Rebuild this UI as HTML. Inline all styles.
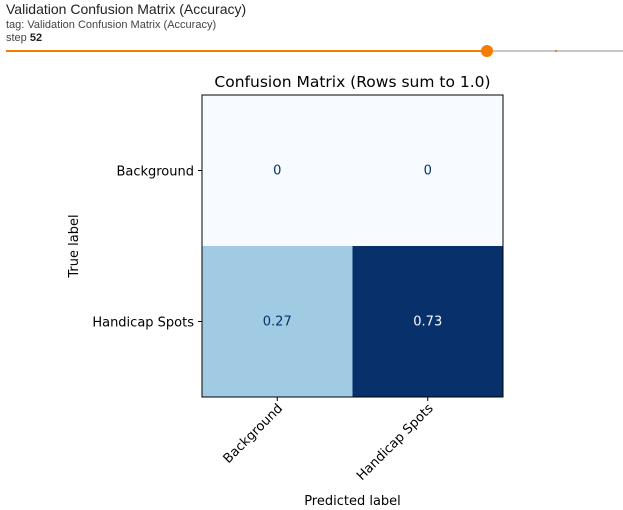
<!DOCTYPE html>
<html><head><meta charset="utf-8"><style>
body{margin:0;width:623px;height:510px;background:#fff;overflow:hidden;font-family:"Liberation Sans",sans-serif}
.h{position:absolute;left:6px;color:#333}
</style></head><body>
<div class="h" style="top:1px;font-size:14px;color:#222">Validation Confusion Matrix (Accuracy)</div>
<div class="h" style="top:19px;font-size:11px;color:#444">tag: Validation Confusion Matrix (Accuracy)</div>
<div class="h" style="top:32px;font-size:11px;color:#444">step <b style="color:#222">52</b></div>
<svg width="623" height="510" style="position:absolute;left:0;top:0">
<g>
<line x1="487" y1="51" x2="623" y2="51" stroke="#c8c8c8" stroke-width="2"/>
<line x1="6" y1="51" x2="487" y2="51" stroke="#f57c00" stroke-width="2"/>
<rect x="555" y="50" width="2" height="2" fill="#f57c00"/>
<circle cx="487" cy="51" r="6" fill="#f57c00"/>
</g>
<g id="chart" font-family="DejaVu Sans, sans-serif" font-size="13"></g>
</svg>
<script>
const categories=["Background","Handicap Spots"];
const row0=[0,0];
const row1=[0.27,0.73];
const values=[row0,row1];
const NS="http://www.w3.org/2000/svg";
const g=document.getElementById('chart');
const L=202,T=95,W=301,H=302,n=categories.length,cw=W/n,ch=H/n;
const xPos=i=>L+cw*(i+0.5), yPos=i=>T+ch*(i+0.5);
const vmax=Math.max(...values.flat()),vmin=Math.min(...values.flat());
const stops=[[247,251,255],[222,235,247],[198,219,239],[158,202,225],[107,174,214],[66,146,198],[33,113,181],[8,81,156],[8,48,107]];
function blues(t){t=Math.max(0,Math.min(1,t));const p=t*(stops.length-1),i=Math.min(Math.floor(p),stops.length-2),f=p-i;
return 'rgb('+stops[i].map((c,k)=>Math.round(c+(stops[i+1][k]-c)*f)).join(',')+')';}
function el(tag,attrs,txt){const e=document.createElementNS(NS,tag);for(const k in attrs)e.setAttribute(k,attrs[k]);if(txt!=null)e.textContent=txt;g.appendChild(e);return e;}
values.forEach((row,r)=>row.forEach((v,c)=>{
 const t=(v-vmin)/((vmax-vmin)||1);
 const rc=el('rect',{x:L+c*cw,y:T+r*ch,width:cw,height:ch,fill:blues(t)});
 
 
 const tx=el('text',{x:xPos(c),y:yPos(r)+4,'text-anchor':'middle',fill:t>0.5?'#f7fbff':'#08306b'},String(v));
 
 
}));
const fr=el('rect',{x:L,y:T,width:W,height:H,fill:'none',stroke:'#000','stroke-width':1});


categories.forEach((c,i)=>{
 el('line',{x1:L-4,y1:yPos(i),x2:L,y2:yPos(i),stroke:'#000'});
 const yl=el('text',{x:L-8,y:yPos(i)+5,'text-anchor':'end',fill:'#000'},c);
 
 
 el('line',{x1:xPos(i),y1:T+H,x2:xPos(i),y2:T+H+4,stroke:'#000'});
 const xl=el('text',{x:xPos(i)+6,y:T+H+12,'text-anchor':'end',fill:'#000',transform:'rotate(-45 '+(xPos(i)+6)+' '+(T+H+12)+')'},c);
 
 
});
const ti=el('text',{x:L+W/2,y:87,'text-anchor':'middle','font-size':'15.5',fill:'#000'},'Confusion Matrix (Rows sum to 1.0)');


const xt=el('text',{x:L+W/2,y:505,'text-anchor':'middle',fill:'#000'},'Predicted label');


const yt=el('text',{x:0,y:0,'text-anchor':'middle',fill:'#000',transform:'translate(78 246) rotate(-90)'},'True label');


</script>
</body></html>
